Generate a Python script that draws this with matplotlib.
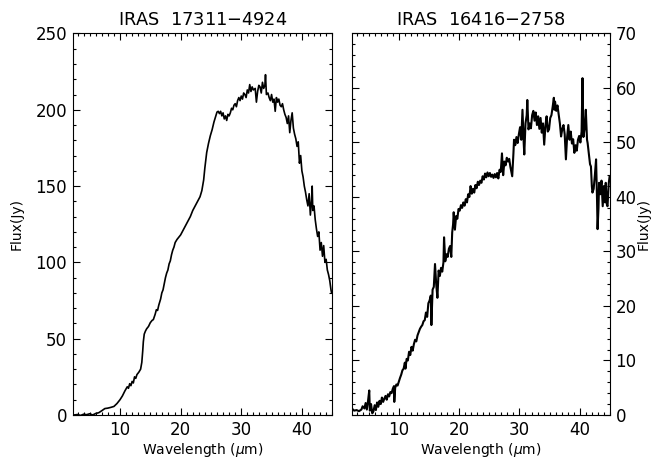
import numpy as np
import matplotlib
matplotlib.use('Agg')
import matplotlib.pyplot as plt
from matplotlib.ticker import MultipleLocator

# IRAS 17311-4924 (left panel)
wave_a = [2.4, 3.0, 3.5, 4.0, 4.5, 5.0, 5.5, 6.0, 6.5, 7.0, 7.5, 8.0, 8.5, 9.0, 9.5,
          10.0, 10.4, 10.8, 11.2, 11.4, 11.6, 11.8, 12.0, 12.2, 12.4, 12.6, 12.8, 13.1,
          13.4, 13.6, 13.75, 13.85, 14.0, 14.2, 14.4, 14.7, 15.0, 15.3, 15.5, 15.8, 16.0,
          16.2, 16.4, 16.7, 16.9, 17.1, 17.3, 17.5, 17.7, 17.9, 18.1, 18.3, 18.5, 18.7,
          18.9, 19.1, 19.4, 19.7, 20.0, 20.4, 20.8, 21.2, 21.6, 22.0, 22.4, 22.8, 23.2,
          23.5, 23.8, 24.0, 24.3, 24.6, 24.9, 25.2, 25.5, 25.8, 26.0, 26.2, 26.4, 26.6,
          26.8, 27.0, 27.2, 27.4, 27.6, 27.8, 28.0, 28.2, 28.4, 28.6, 28.8, 29.0, 29.2,
          29.4, 29.6, 29.8, 30.0, 30.2, 30.4, 30.6, 30.8, 31.0, 31.2, 31.4, 31.6, 31.8,
          32.0, 32.3, 32.5, 32.7, 32.9, 33.1, 33.3, 33.5, 33.7, 33.9, 34.0, 34.15, 34.4,
          34.6, 34.8, 35.0, 35.2, 35.4, 35.6, 35.8, 36.0, 36.2, 36.4, 36.6, 36.8, 37.0,
          37.2, 37.4, 37.6, 37.8, 38.0, 38.2, 38.4, 38.6, 38.8, 39.0, 39.2, 39.4, 39.6,
          39.8, 40.0, 40.2, 40.4, 40.6, 40.8, 41.0, 41.2, 41.4, 41.6, 41.7, 41.8, 42.0,
          42.2, 42.4, 42.6, 42.8, 43.0, 43.2, 43.4, 43.6, 43.8, 44.0, 44.2, 44.4, 44.6,
          44.8, 44.9]
flux_a = [0.0, 0.3, -0.3, 0.5, 0.2, 0.8, 0.0, 1.0, 1.5, 2.8, 4.2, 4.5, 5.0, 5.6, 7.5,
          10.0, 12.5, 15.7, 18.5, 17.5, 20.5, 19.2, 22.0, 21.0, 25.0, 24.0, 26.5, 28.0,
          30.0, 34.5, 42.0, 48.0, 53.0, 55.0, 56.5, 58.0, 60.5, 62.0, 62.5, 66.0, 69.0,
          68.5, 72.0, 76.0, 80.0, 82.0, 86.0, 90.0, 93.0, 95.0, 99.0, 101.0, 105.0, 108.0,
          110.0, 113.0, 115.0, 116.5, 118.0, 121.0, 124.0, 127.0, 130.0, 134.0, 137.0, 140.0, 143.0,
          147.0, 154.0, 162.0, 172.0, 178.0, 183.0, 187.0, 192.0, 196.0, 198.5, 199.0, 197.5, 199.0,
          196.0, 198.0, 194.0, 196.0, 193.0, 197.0, 196.0, 198.0, 201.0, 200.0, 203.0, 204.0, 202.0,
          206.0, 208.0, 206.0, 209.0, 207.0, 211.0, 210.0, 208.0, 213.0, 211.0, 216.5, 212.0, 215.0,
          213.0, 214.0, 205.0, 212.0, 216.0, 215.0, 211.0, 218.0, 214.0, 216.0, 223.0, 210.0, 211.0,
          208.0, 206.0, 210.0, 205.0, 207.0, 199.0, 208.0, 205.0, 207.0, 203.0, 202.0, 204.0, 200.0,
          197.0, 195.0, 191.0, 196.0, 185.0, 193.0, 198.0, 188.0, 184.0, 181.0, 176.0, 179.0, 165.0,
          170.0, 160.0, 156.0, 150.0, 146.0, 141.0, 137.0, 145.0, 131.0, 141.0, 150.0, 134.0, 137.0,
          128.0, 122.0, 117.0, 120.0, 108.0, 113.0, 104.0, 111.0, 100.0, 102.0, 95.0, 92.0, 88.0,
          82.0, 80.0]

# IRAS 16416-2758 (right panel)
wave_b = [2.2, 2.6, 3.0, 3.4, 3.8, 4.0, 4.3, 4.5, 4.7, 4.9, 5.1, 5.2, 5.4, 5.6, 5.8,
          6.0, 6.2, 6.4, 6.6, 6.8, 7.0, 7.2, 7.4, 7.6, 7.8, 8.0, 8.2, 8.4, 8.6, 8.8,
          9.0, 9.2, 9.25, 9.4, 9.6, 9.8, 10.0, 10.2, 10.4, 10.6, 10.8, 11.0, 11.1, 11.3,
          11.5, 11.7, 11.9, 12.1, 12.3, 12.5, 12.7, 12.9, 13.1, 13.3, 13.5, 13.7, 13.9,
          14.1, 14.3, 14.5, 14.7, 14.9, 15.1, 15.3, 15.4, 15.6, 15.8, 16.0, 16.2, 16.4,
          16.6, 16.8, 17.0, 17.2, 17.4, 17.5, 17.7, 17.9, 18.1, 18.3, 18.5, 18.7, 18.85,
          19.0, 19.1, 19.3, 19.5, 19.7, 19.9, 20.1, 20.3, 20.5, 20.7, 20.9, 21.1, 21.3,
          21.5, 21.7, 21.9, 22.1, 22.3, 22.5, 22.7, 22.9, 23.1, 23.3, 23.5, 23.7, 23.9,
          24.1, 24.3, 24.5, 24.7, 24.9, 25.1, 25.3, 25.5, 25.7, 25.9, 26.1, 26.3, 26.5,
          26.7, 26.9, 27.1, 27.3, 27.5, 27.7, 27.9, 28.1, 28.3, 28.5, 28.8, 29.0, 29.1,
          29.3, 29.5, 29.7, 29.9, 30.1, 30.3, 30.5, 30.7, 30.8, 31.0, 31.2, 31.3, 31.5,
          31.7, 31.9, 32.1, 32.3, 32.5, 32.7, 32.9, 33.1, 33.3, 33.5, 33.7, 33.9, 34.1,
          34.3, 34.5, 34.7, 34.9, 35.1, 35.3, 35.5, 35.7, 35.8, 35.9, 36.1, 36.3, 36.5,
          36.7, 36.9, 37.1, 37.3, 37.5, 37.7, 37.9, 38.1, 38.3, 38.5, 38.7, 38.9, 39.1,
          39.3, 39.5, 39.7, 39.9, 40.1, 40.3, 40.45, 40.6, 40.8, 41.0, 41.2, 41.3, 41.5,
          41.7, 41.85, 42.0, 42.1, 42.3, 42.5, 42.7, 42.85, 42.95, 43.1, 43.2, 43.4, 43.6,
          43.8, 44.0, 44.2, 44.3, 44.5, 44.6, 44.8, 44.95]
flux_b = [1.2, 0.8, 0.9, 0.7, 1.0, 1.6, 1.2, 2.2, 1.0, 2.6, 4.5, 0.8, 2.0, 0.3, 0.7,
          1.8, 0.9, 2.3, 1.5, 2.6, 2.0, 3.2, 2.4, 3.0, 3.5, 2.8, 3.8, 3.4, 4.2, 4.0,
          4.8, 5.3, 2.4, 5.0, 5.6, 5.4, 6.1, 6.8, 7.4, 8.2, 8.5, 9.6, 8.5, 10.3,
          10.0, 11.6, 11.0, 12.5, 11.8, 13.0, 13.8, 13.5, 14.6, 15.2, 15.8, 16.2, 16.5,
          17.2, 17.4, 18.8, 18.0, 20.5, 21.0, 21.9, 16.5, 23.0, 23.5, 27.7, 24.0, 21.5,
          26.5, 25.5, 27.0, 26.3, 28.0, 32.6, 28.2, 29.5, 29.0, 30.5, 31.0, 29.0, 33.5,
          35.0, 37.2, 34.0, 36.5, 36.0, 37.8, 37.5, 38.5, 38.0, 39.0, 38.4, 39.6, 39.0,
          40.5, 40.0, 42.0, 40.6, 41.5, 40.8, 42.2, 41.6, 42.8, 42.2, 43.0, 42.6, 43.8,
          43.2, 44.3, 43.6, 44.5, 43.8, 44.4, 43.7, 44.1, 43.5, 44.2, 43.6, 44.4, 43.4,
          45.0, 44.6, 48.0, 44.0, 46.5, 45.8, 47.2, 46.5, 47.0, 45.5, 43.8, 48.0, 50.5,
          49.5, 51.0, 49.9, 51.5, 52.8, 50.5, 56.0, 50.0, 47.8, 53.5, 55.0, 57.8, 52.4,
          53.5, 52.6, 55.0, 55.8, 54.0, 55.5, 53.2, 54.8, 52.5, 54.5, 51.8, 53.5, 49.6,
          53.0, 54.8, 52.0, 52.4, 54.5, 55.0, 56.5, 58.2, 56.0, 57.5, 55.8, 56.8, 55.1,
          53.5, 51.1, 52.5, 53.2, 51.5, 46.9, 51.0, 53.2, 50.5, 52.0, 49.8, 50.6, 48.1,
          49.5, 48.5, 50.5, 51.2, 50.0, 52.0, 61.8, 51.0, 52.5, 56.0, 50.5, 49.9, 48.0,
          46.0, 45.6, 42.0, 40.8, 41.5, 44.0, 46.9, 40.0, 34.1, 38.0, 42.6, 40.5, 43.0,
          38.3, 42.0, 39.0, 42.6, 38.5, 38.3, 42.5, 43.8]

titles = ['IRAS  17311$-$4924', 'IRAS  16416$-$2758']

fig = plt.figure(figsize=(6.52, 4.63), dpi=100)
ax1 = fig.add_axes([0.1115, 0.1037, 0.398, 0.824])
ax2 = fig.add_axes([0.5395, 0.1037, 0.396, 0.824])

ax1.plot(wave_a, flux_a, color='black', lw=1.2)
ax2.plot(wave_b, flux_b, color='black', lw=1.5)

ax1.set_ylim(0, 250)
ax2.set_ylim(0, 70)
ax1.yaxis.set_major_locator(MultipleLocator(50))
ax1.yaxis.set_minor_locator(MultipleLocator(10))
ax2.yaxis.set_major_locator(MultipleLocator(10))
ax2.yaxis.set_minor_locator(MultipleLocator(2))

for ax, t in zip([ax1, ax2], titles):
    ax.set_xlim(2.2, 45)
    ax.xaxis.set_major_locator(MultipleLocator(10))
    ax.xaxis.set_minor_locator(MultipleLocator(1))
    ax.tick_params(which='both', direction='in', top=True, right=True, labelsize=12)
    ax.tick_params(which='major', length=5, width=0.8, pad=4)
    ax.tick_params(which='minor', length=2.5, width=0.8)
    ax.set_title(t, fontsize=12.8, pad=6)
    ax.set_xlabel(r'Wavelength ($\mu$m)', fontsize=10, labelpad=2)
    ax.set_ylabel('Flux(Jy)', fontsize=10)

ax2.yaxis.tick_right()
ax2.yaxis.set_label_position('right')
ax2.tick_params(which='both', left=True, right=True, labelleft=False, labelright=True)

ax1.yaxis.set_label_coords(-0.19, 0.5)
ax2.yaxis.set_label_coords(1.105, 0.5)

fig.savefig('out.png', dpi=100)
